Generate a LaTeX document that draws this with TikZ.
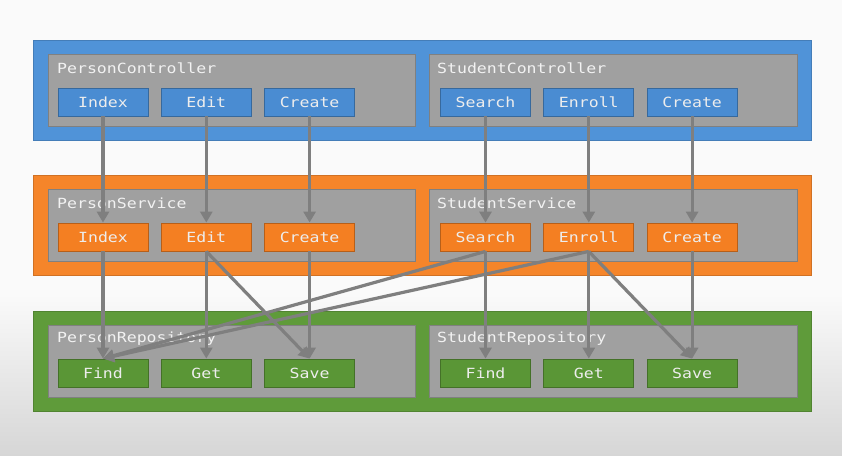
\documentclass[tikz,border=0pt]{standalone}
\usepackage{fontspec}
\usetikzlibrary{arrows.meta,positioning}
\newfontfamily\codefont[FakeStretch=1.18]{DejaVu Sans Mono}

\definecolor{ctrlblue}{HTML}{5093D8}
\definecolor{ctrlbox}{HTML}{4A8CD2}
\definecolor{svcorange}{HTML}{F5852A}
\definecolor{svcbox}{HTML}{F47F22}
\definecolor{repogreen}{HTML}{5F9B3A}
\definecolor{repobox}{HTML}{5A9636}
\definecolor{panelgray}{HTML}{A0A0A0}
\definecolor{callgray}{HTML}{7F7F7F}

\tikzset{
  band/.style={fill=#1, draw=#1!85!black, line width=0.6pt},
  panel/.style={fill=panelgray, draw=panelgray!80!black, line width=0.8pt},
  title/.style={anchor=west, inner sep=0pt, text=white!95!black,
    font=\codefont\fontsize{14}{14}\selectfont},
  method/.style={draw=#1!75!black, fill=#1, line width=0.8pt,
    minimum width=90pt, minimum height=28pt, inner sep=0pt,
    text=white!93!black, font=\codefont\fontsize{14}{14}\selectfont},
  call/.style={draw=callgray, line width=3.2pt,
    -{Triangle[length=11pt,width=12pt]}},
  node distance=12.5pt
}

\begin{document}
\begin{tikzpicture}[x=1pt,y=-1pt]
    \useasboundingbox (0,0) rectangle (842,455);

    % Draw the background
    \fill[white!98!black] (0,0) rectangle (842,455);
    \shade[top color=white!98!black, bottom color=white!84!black] (0,295) rectangle (842,455);

    % Draw the controller layer
    \filldraw[band=ctrlblue] (33,40) rectangle (811,140);
    \filldraw[panel] (48,54) rectangle (415,126);
    \filldraw[panel] (429,54) rectangle (797,126);
    \node[title] (pcTitle) at (57,68) {PersonController};
    \node[title] (scTitle) at (437,68) {StudentController};
    \node[method=ctrlbox] (pcIndex) at (103,102) {Index};
    \node[method=ctrlbox, right=of pcIndex] (pcEdit) {Edit};
    \node[method=ctrlbox, right=of pcEdit] (pcCreate) {Create};
    \node[method=ctrlbox] (scSearch) at (485.5,102) {Search};
    \node[method=ctrlbox, right=of scSearch] (scEnroll) {Enroll};
    \node[method=ctrlbox, right=of scEnroll] (scCreate) {Create};

    % Draw the service layer
    \filldraw[band=svcorange] (33,175) rectangle (811,275);
    \filldraw[panel] (48,189) rectangle (415,261);
    \filldraw[panel] (429,189) rectangle (797,261);
    \node[title] (psTitle) at (57,203) {PersonService};
    \node[title] (ssTitle) at (437,203) {StudentService};
    \node[method=svcbox] (psIndex) at (103,237) {Index};
    \node[method=svcbox, right=of psIndex] (psEdit) {Edit};
    \node[method=svcbox, right=of psEdit] (psCreate) {Create};
    \node[method=svcbox] (ssSearch) at (485.5,237) {Search};
    \node[method=svcbox, right=of ssSearch] (ssEnroll) {Enroll};
    \node[method=svcbox, right=of ssEnroll] (ssCreate) {Create};

    % Draw the repository layer
    \filldraw[band=repogreen] (33,311) rectangle (811,411);
    \filldraw[panel] (48,325) rectangle (415,397);
    \filldraw[panel] (429,325) rectangle (797,397);
    \node[title] (prTitle) at (57,339) {PersonRepository};
    \node[title] (srTitle) at (437,339) {StudentRepository};
    \node[method=repobox] (prFind) at (103,373) {Find};
    \node[method=repobox, right=of prFind] (prGet) {Get};
    \node[method=repobox, right=of prGet] (prSave) {Save};
    \node[method=repobox] (srFind) at (485.5,373) {Find};
    \node[method=repobox, right=of srFind] (srGet) {Get};
    \node[method=repobox, right=of srGet] (srSave) {Save};

    % Controller calls
    \draw[call] (pcIndex.south) -- (psIndex.north);
    \draw[call] (pcEdit.south) -- (psEdit.north);
    \draw[call] (pcCreate.south) -- (psCreate.north);
    \draw[call] (scSearch.south) -- (ssSearch.north);
    \draw[call] (scEnroll.south) -- (ssEnroll.north);
    \draw[call] (scCreate.south) -- (ssCreate.north);

    % Service calls
    \draw[call] (psIndex.south) -- (prFind.north);
    \draw[call] (psEdit.south) -- (prGet.north);
    \draw[call] (psEdit.south) -- (prSave.north);
    \draw[call] (psCreate.south) -- (prSave.north);
    \draw[call] (ssSearch.south) -- (prFind.north);
    \draw[call] (ssSearch.south) -- (srFind.north);
    \draw[call] (ssEnroll.south) -- (prFind.north);
    \draw[call] (ssEnroll.south) -- (srGet.north);
    \draw[call] (ssEnroll.south) -- (srSave.north);
    \draw[call] (ssCreate.south) -- (srSave.north);
\end{tikzpicture}
\end{document}
